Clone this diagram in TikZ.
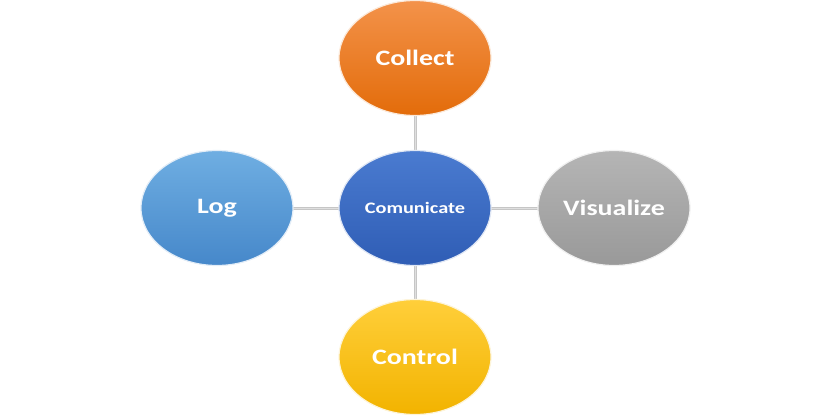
\documentclass[tikz,border=0pt]{standalone}
\usepackage{fontspec}
\setmainfont{Carlito}
\usetikzlibrary{shapes.geometric}
\begin{document}
\begin{tikzpicture}[x=1pt,y=-1pt,
  bubble/.style={ellipse, minimum width=152pt, minimum height=115pt, inner sep=0pt, line width=1.2pt},
  conn/.style={draw=gray!45, line width=3pt},
  lab/.style={text=white, font=\bfseries\fontsize{22}{24}\selectfont}
]
\useasboundingbox (0,0) rectangle (832,417);
\definecolor{orA}{HTML}{F3924A}\definecolor{orB}{HTML}{E36C0A}
\definecolor{blA}{HTML}{4A7BD0}\definecolor{blB}{HTML}{2F5DB5}
\definecolor{lbA}{HTML}{6FAEE2}\definecolor{lbB}{HTML}{4688CA}
\definecolor{grA}{HTML}{B5B5B5}\definecolor{grB}{HTML}{999999}
\definecolor{yeA}{HTML}{FFCF3A}\definecolor{yeB}{HTML}{F2B300}
\coordinate (pc) at (415,208);
\coordinate (pt) at (415,58);
\coordinate (pl) at (217,208);
\coordinate (pr) at (614,208);
\coordinate (pb) at (415,357);
\draw[conn] (pc) -- (pt);
\draw[conn] (pc) -- (pl);
\draw[conn] (pc) -- (pr);
\draw[conn] (pc) -- (pb);
\draw[draw=gray!25, line width=1pt] (pc) -- (pt) (pc) -- (pl) (pc) -- (pr) (pc) -- (pb);
\node[bubble, top color=orA, bottom color=orB, draw=white!85!orB] (collect) at (pt) {};
\node[bubble, top color=blA, bottom color=blB, draw=white!85!blB] (comm) at (pc) {};
\node[bubble, top color=lbA, bottom color=lbB, draw=white!85!lbB] (log) at (pl) {};
\node[bubble, top color=grA, bottom color=grB, draw=white!85!grB] (vis) at (pr) {};
\node[bubble, top color=yeA, bottom color=yeB, draw=white!85!yeB] (ctrl) at (pb) {};
\node[lab] at (collect) {\scalebox{1.27}[1]{Collect}};
\node[lab, font=\bfseries\fontsize{16}{18}\selectfont] at (comm) {\scalebox{1.27}[1]{Comunicate}};
\node[lab] at (log) {\scalebox{1.27}[1]{Log}};
\node[lab] at (vis) {\scalebox{1.27}[1]{Visualize}};
\node[lab] at (ctrl) {\scalebox{1.27}[1]{Control}};
\end{tikzpicture}
\end{document}
